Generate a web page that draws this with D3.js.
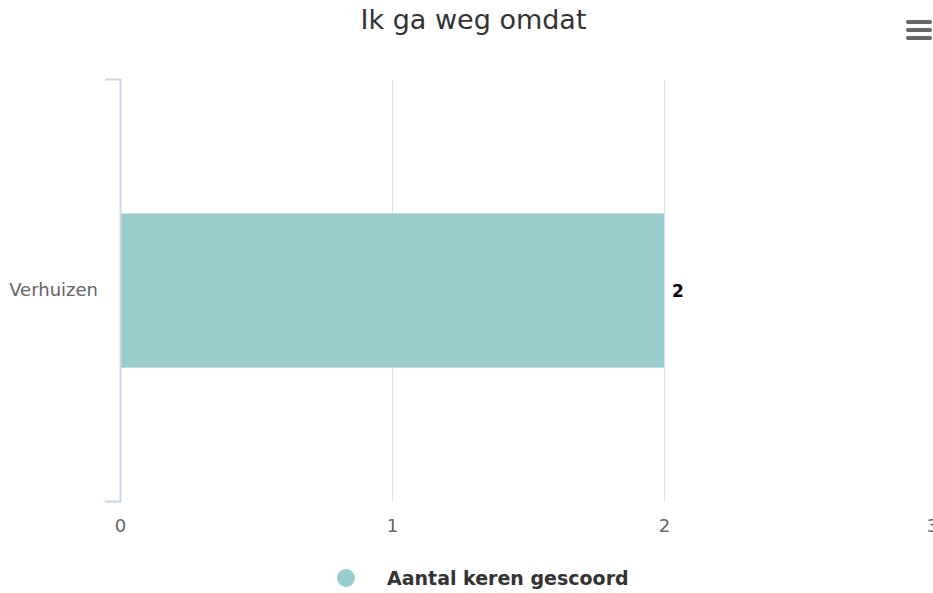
<!DOCTYPE html>
<html>
<head>
<meta charset="utf-8">
<script src="https://cdn.jsdelivr.net/npm/d3@7"></script>
<style>
  body { margin: 0; background: #fff; }
  svg { font-family: 'DejaVu Sans', sans-serif; display: block; }
</style>
</head>
<body>
<div id="chart"></div>
<script>
// chart data
var categories = ['Verhuizen'];
var seriesName = 'Aantal keren gescoord';
var seriesValues = [2];
var xTicks = [0, 1, 2, 3];
var titleText = 'Ik ga weg omdat';

function drawChart (id) {
  var width = 933;
  var height = 593;
  var margin = { top: 79, right: -3, bottom: 91, left: 120 };
  var barColor = '#99cccc';

  var svg = d3.select('#' + id)
    .append('svg')
    .attr('width', width)
    .attr('height', height);

  var xScale = d3.scaleLinear()
    .domain([0, 3])
    .range([margin.left, width - margin.right]);
  var yScale = d3.scaleBand()
    .domain(categories)
    .range([margin.top, height - margin.bottom])
    .paddingInner(0.3)
    .paddingOuter(0.61);

  // grid lines
  svg.append('g')
    .selectAll('line')
    .data(xTicks.slice(1))
    .enter().append('line')
    .attr('x1', function (d) { return xScale(d); })
    .attr('x2', function (d) { return xScale(d); })
    .attr('y1', margin.top)
    .attr('y2', height - margin.bottom)
    .attr('stroke', '#e3e3e3')
    .attr('stroke-width', 1)
    .attr('shape-rendering', 'crispEdges');

  // bars
  svg.append('g')
    .selectAll('rect')
    .data(seriesValues)
    .enter().append('rect')
    .attr('x', xScale(0))
    .attr('y', function (d, i) { return yScale(categories[i]); })
    .attr('width', function (d) { return xScale(d) - xScale(0); })
    .attr('height', yScale.bandwidth())
    .attr('fill', barColor);

  // data labels
  svg.append('g')
    .selectAll('text')
    .data(seriesValues)
    .enter().append('text')
    .attr('x', function (d) { return xScale(d) + 8; })
    .attr('y', function (d, i) { return yScale(categories[i]) + yScale.bandwidth() / 2; })
    .attr('dy', '0.36em')
    .attr('font-size', 17)
    .attr('font-weight', 'bold')
    .attr('fill', '#000')
    .text(function (d) { return d; });

  // y axis
  var yAxis = d3.axisLeft(yScale).tickSize(0).tickPadding(22);
  var gy = svg.append('g')
    .attr('transform', 'translate(' + margin.left + ',0)')
    .call(yAxis);
  gy.select('.domain').remove();
  gy.selectAll('text').attr('font-size', 18).attr('fill', '#666').attr('font-family', 'DejaVu Sans');
  var y0 = margin.top, y1 = height - margin.bottom;
  gy.append('path')
    .attr('d', 'M-15,' + (y0 + 0.5) + 'H0.5V' + (y1 - 0.5) + 'H-15')
    .attr('fill', 'none')
    .attr('stroke', '#ccd6eb')
    .attr('stroke-width', 2);

  // x axis
  var xAxis = d3.axisBottom(xScale).tickValues(xTicks).tickFormat(d3.format('d')).tickSize(0).tickPadding(17);
  var gx = svg.append('g')
    .attr('transform', 'translate(0,' + (height - margin.bottom) + ')')
    .call(xAxis);
  gx.select('.domain').remove();
  gx.selectAll('text').attr('font-size', 18).attr('fill', '#666').attr('font-family', 'DejaVu Sans');
  // last label sits a bit inward, cut by the edge like the original
  gx.selectAll('.tick').filter(function (d) { return d === 3; })
    .select('text').attr('dx', -4);

  // title
  svg.append('text')
    .attr('x', 473.5)
    .attr('y', 29)
    .attr('text-anchor', 'middle')
    .attr('font-size', 27)
    .attr('fill', '#333')
    .text(titleText);

  // menu button
  svg.append('g')
    .selectAll('line')
    .data([22, 30, 38])
    .enter().append('line')
    .attr('x1', 908).attr('x2', 930)
    .attr('y1', function (d) { return d; })
    .attr('y2', function (d) { return d; })
    .attr('stroke', '#666')
    .attr('stroke-width', 4)
    .attr('stroke-linecap', 'round');

  // legend
  var legend = svg.append('g').attr('transform', 'translate(346,578)');
  legend.append('circle').attr('r', 9).attr('fill', barColor);
  legend.append('text')
    .attr('x', 41)
    .attr('y', 0)
    .attr('dy', '0.36em')
    .attr('font-size', 19)
    .attr('font-weight', 'bold')
    .attr('fill', '#333')
    .text(seriesName);
}

window.addEventListener('load', function () {
  drawChart('chart');
});
</script>
</body>
</html>
